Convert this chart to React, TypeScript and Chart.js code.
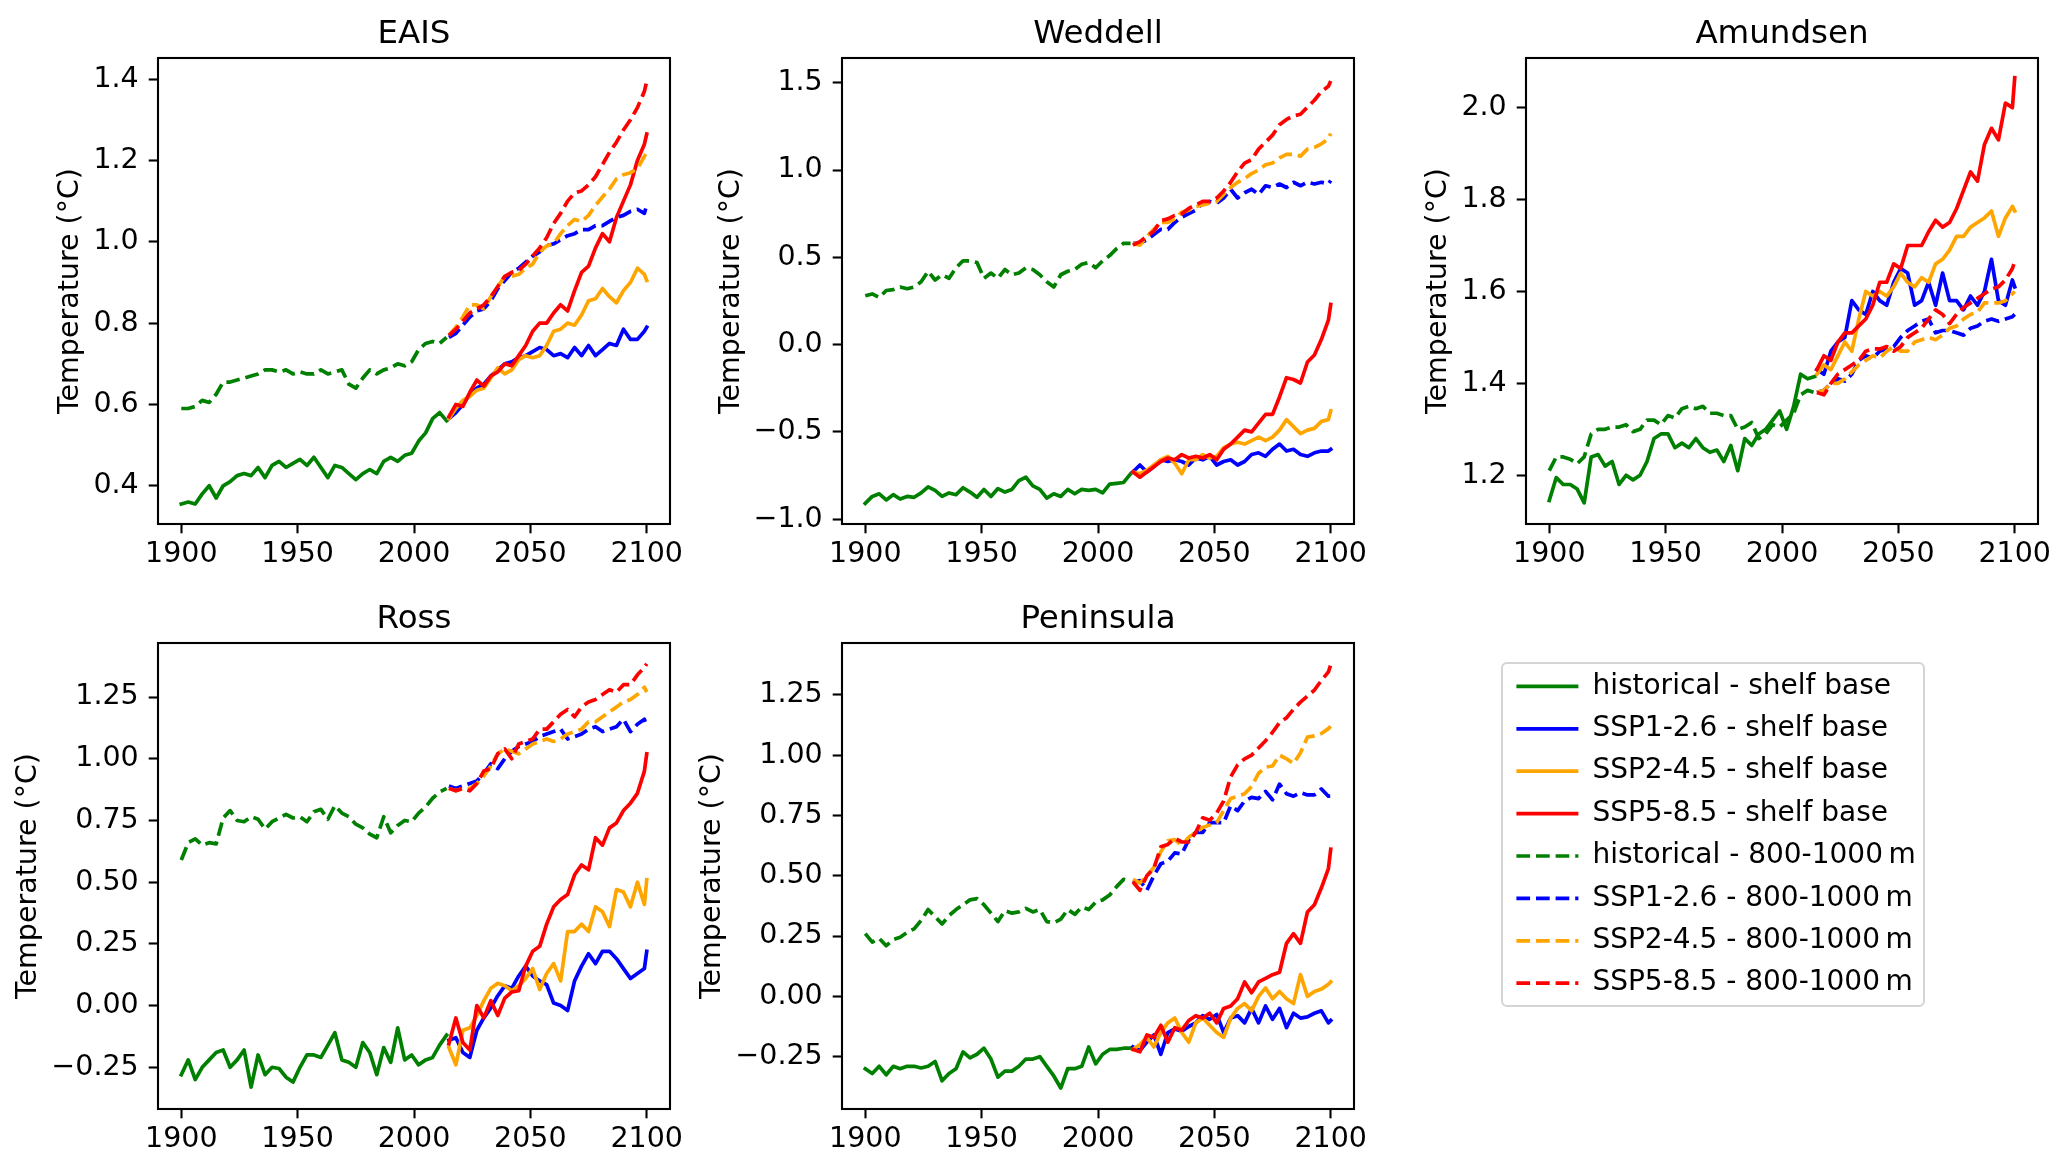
import React, { useEffect, useRef } from 'react';
import { Chart, registerables } from 'chart.js';

Chart.register(...registerables);

// ---------------- data ----------------
const HIST_YEARS = [1900, 1903, 1906, 1909, 1912, 1915, 1918, 1921, 1924, 1927, 1930, 1933, 1936, 1939, 1942, 1945, 1948, 1951, 1954, 1957, 1960, 1963, 1966, 1969, 1972, 1975, 1978, 1981, 1984, 1987, 1990, 1993, 1996, 1999, 2002, 2005, 2008, 2011, 2014];
const SSP_YEARS = [2015, 2018, 2021, 2024, 2027, 2030, 2033, 2036, 2039, 2042, 2045, 2048, 2051, 2054, 2057, 2060, 2063, 2066, 2069, 2072, 2075, 2078, 2081, 2084, 2087, 2090, 2093, 2096, 2099, 2100];
const X_TICKS = [1900, 1950, 2000, 2050, 2100];

const LEGEND_LABELS = [
  'historical - shelf base',
  'SSP1-2.6 - shelf base',
  'SSP2-4.5 - shelf base',
  'SSP5-8.5 - shelf base',
  'historical - 800-1000\u2009m',
  'SSP1-2.6 - 800-1000\u2009m',
  'SSP2-4.5 - 800-1000\u2009m',
  'SSP5-8.5 - 800-1000\u2009m',
];

// EAIS
const EAIS_HIST_SHELF = [0.355, 0.36, 0.355, 0.38, 0.40, 0.37, 0.40, 0.41, 0.425, 0.43, 0.425, 0.445, 0.42, 0.45, 0.46, 0.445, 0.455, 0.465, 0.45, 0.47, 0.445, 0.42, 0.45, 0.445, 0.43, 0.415, 0.43, 0.44, 0.43, 0.46, 0.47, 0.46, 0.475, 0.48, 0.51, 0.53, 0.565, 0.58, 0.56];
const EAIS_HIST_DEEP = [0.59, 0.59, 0.595, 0.61, 0.605, 0.625, 0.655, 0.655, 0.66, 0.665, 0.67, 0.675, 0.685, 0.685, 0.68, 0.685, 0.675, 0.68, 0.675, 0.675, 0.685, 0.675, 0.68, 0.685, 0.65, 0.64, 0.665, 0.685, 0.675, 0.685, 0.69, 0.70, 0.695, 0.705, 0.735, 0.75, 0.755, 0.75, 0.765];
const EAIS_SSP126_SHELF = [0.565, 0.58, 0.60, 0.625, 0.64, 0.65, 0.67, 0.685, 0.70, 0.705, 0.715, 0.72, 0.73, 0.74, 0.735, 0.72, 0.725, 0.715, 0.74, 0.72, 0.745, 0.72, 0.735, 0.75, 0.745, 0.785, 0.76, 0.76, 0.78, 0.79];
const EAIS_SSP245_SHELF = [0.565, 0.59, 0.61, 0.62, 0.635, 0.64, 0.665, 0.69, 0.675, 0.685, 0.71, 0.72, 0.715, 0.72, 0.745, 0.78, 0.785, 0.80, 0.795, 0.82, 0.855, 0.86, 0.885, 0.865, 0.85, 0.88, 0.90, 0.935, 0.92, 0.905];
const EAIS_SSP585_SHELF = [0.57, 0.60, 0.595, 0.63, 0.66, 0.645, 0.67, 0.68, 0.70, 0.695, 0.72, 0.745, 0.78, 0.80, 0.80, 0.825, 0.845, 0.83, 0.88, 0.925, 0.94, 0.985, 1.02, 1.00, 1.06, 1.10, 1.14, 1.20, 1.24, 1.265];
const EAIS_SSP126_DEEP = [0.765, 0.775, 0.795, 0.815, 0.83, 0.835, 0.855, 0.885, 0.905, 0.925, 0.935, 0.95, 0.965, 0.975, 0.99, 0.995, 1.005, 1.015, 1.02, 1.03, 1.03, 1.04, 1.04, 1.05, 1.06, 1.065, 1.075, 1.08, 1.07, 1.09];
const EAIS_SSP245_DEEP = [0.77, 0.79, 0.815, 0.845, 0.845, 0.835, 0.865, 0.89, 0.915, 0.915, 0.92, 0.935, 0.945, 0.975, 0.99, 0.995, 1.02, 1.04, 1.055, 1.05, 1.065, 1.09, 1.11, 1.13, 1.155, 1.165, 1.17, 1.18, 1.21, 1.22];
const EAIS_SSP585_DEEP = [0.77, 0.785, 0.805, 0.825, 0.835, 0.845, 0.865, 0.89, 0.915, 0.925, 0.93, 0.945, 0.965, 0.985, 1.01, 1.045, 1.07, 1.10, 1.12, 1.125, 1.14, 1.16, 1.19, 1.22, 1.245, 1.275, 1.30, 1.33, 1.37, 1.395];

// Weddell
const WEDDELL_HIST_SHELF = [-0.91, -0.87, -0.855, -0.89, -0.86, -0.885, -0.87, -0.875, -0.85, -0.815, -0.835, -0.87, -0.85, -0.86, -0.82, -0.845, -0.875, -0.83, -0.87, -0.825, -0.845, -0.83, -0.78, -0.76, -0.81, -0.83, -0.88, -0.855, -0.87, -0.83, -0.855, -0.83, -0.835, -0.83, -0.85, -0.80, -0.795, -0.79, -0.74];
const WEDDELL_HIST_DEEP = [0.28, 0.29, 0.27, 0.31, 0.315, 0.33, 0.32, 0.33, 0.36, 0.42, 0.37, 0.40, 0.38, 0.44, 0.48, 0.48, 0.47, 0.38, 0.41, 0.38, 0.43, 0.40, 0.41, 0.44, 0.43, 0.40, 0.36, 0.33, 0.40, 0.42, 0.43, 0.46, 0.47, 0.44, 0.48, 0.51, 0.55, 0.58, 0.58];
const WEDDELL_SSP126_SHELF = [-0.73, -0.69, -0.73, -0.70, -0.66, -0.67, -0.66, -0.67, -0.69, -0.65, -0.66, -0.64, -0.69, -0.67, -0.66, -0.69, -0.67, -0.63, -0.62, -0.64, -0.60, -0.57, -0.61, -0.60, -0.63, -0.64, -0.62, -0.61, -0.61, -0.60];
const WEDDELL_SSP245_SHELF = [-0.73, -0.74, -0.72, -0.69, -0.66, -0.64, -0.68, -0.74, -0.66, -0.66, -0.63, -0.65, -0.64, -0.59, -0.57, -0.56, -0.57, -0.55, -0.53, -0.55, -0.53, -0.49, -0.43, -0.47, -0.51, -0.49, -0.48, -0.44, -0.43, -0.38];
const WEDDELL_SSP585_SHELF = [-0.73, -0.76, -0.73, -0.70, -0.67, -0.65, -0.66, -0.63, -0.65, -0.64, -0.65, -0.63, -0.66, -0.60, -0.57, -0.53, -0.49, -0.50, -0.45, -0.40, -0.40, -0.30, -0.19, -0.20, -0.22, -0.10, -0.06, 0.03, 0.14, 0.23];
const WEDDELL_SSP126_DEEP = [0.58, 0.58, 0.60, 0.63, 0.66, 0.66, 0.70, 0.73, 0.75, 0.77, 0.81, 0.82, 0.81, 0.84, 0.89, 0.84, 0.87, 0.89, 0.86, 0.91, 0.90, 0.92, 0.90, 0.93, 0.91, 0.93, 0.92, 0.93, 0.92, 0.94];
const WEDDELL_SSP245_DEEP = [0.58, 0.57, 0.62, 0.66, 0.70, 0.70, 0.72, 0.76, 0.77, 0.79, 0.80, 0.81, 0.82, 0.86, 0.90, 0.93, 0.95, 0.98, 1.00, 1.03, 1.04, 1.07, 1.09, 1.09, 1.08, 1.12, 1.13, 1.15, 1.18, 1.21];
const WEDDELL_SSP585_DEEP = [0.57, 0.59, 0.62, 0.65, 0.71, 0.72, 0.74, 0.75, 0.78, 0.80, 0.82, 0.82, 0.84, 0.88, 0.93, 0.99, 1.04, 1.06, 1.12, 1.16, 1.20, 1.26, 1.29, 1.31, 1.32, 1.36, 1.40, 1.45, 1.48, 1.51];

// Amundsen
const AMUNDSEN_HIST_SHELF = [1.145, 1.195, 1.18, 1.18, 1.17, 1.14, 1.24, 1.245, 1.22, 1.23, 1.18, 1.20, 1.19, 1.20, 1.23, 1.28, 1.29, 1.29, 1.26, 1.27, 1.26, 1.28, 1.26, 1.25, 1.255, 1.23, 1.265, 1.21, 1.28, 1.265, 1.29, 1.30, 1.32, 1.34, 1.30, 1.35, 1.42, 1.41, 1.415];
const AMUNDSEN_HIST_DEEP = [1.21, 1.24, 1.24, 1.235, 1.225, 1.24, 1.29, 1.30, 1.30, 1.305, 1.305, 1.31, 1.295, 1.30, 1.32, 1.32, 1.31, 1.33, 1.325, 1.345, 1.35, 1.345, 1.35, 1.335, 1.335, 1.33, 1.33, 1.30, 1.305, 1.315, 1.28, 1.29, 1.31, 1.305, 1.32, 1.335, 1.375, 1.385, 1.38];
const AMUNDSEN_SSP126_SHELF = [1.43, 1.42, 1.47, 1.49, 1.50, 1.58, 1.56, 1.55, 1.60, 1.58, 1.57, 1.62, 1.65, 1.64, 1.57, 1.58, 1.62, 1.57, 1.64, 1.58, 1.58, 1.56, 1.59, 1.57, 1.60, 1.67, 1.58, 1.57, 1.625, 1.61];
const AMUNDSEN_SSP245_SHELF = [1.42, 1.44, 1.43, 1.46, 1.49, 1.47, 1.54, 1.60, 1.59, 1.60, 1.59, 1.61, 1.64, 1.62, 1.61, 1.63, 1.62, 1.66, 1.67, 1.69, 1.72, 1.72, 1.74, 1.75, 1.76, 1.775, 1.72, 1.76, 1.785, 1.775];
const AMUNDSEN_SSP585_SHELF = [1.43, 1.46, 1.45, 1.49, 1.51, 1.51, 1.525, 1.54, 1.57, 1.62, 1.62, 1.66, 1.65, 1.70, 1.70, 1.70, 1.73, 1.755, 1.74, 1.75, 1.78, 1.82, 1.86, 1.84, 1.92, 1.955, 1.93, 2.01, 2.00, 2.065];
const AMUNDSEN_SSP126_DEEP = [1.38, 1.385, 1.40, 1.41, 1.405, 1.42, 1.45, 1.46, 1.455, 1.47, 1.475, 1.48, 1.50, 1.515, 1.525, 1.535, 1.54, 1.51, 1.515, 1.515, 1.51, 1.505, 1.52, 1.525, 1.535, 1.54, 1.535, 1.54, 1.545, 1.55];
const AMUNDSEN_SSP245_DEEP = [1.38, 1.385, 1.40, 1.40, 1.41, 1.425, 1.44, 1.45, 1.46, 1.455, 1.47, 1.48, 1.47, 1.47, 1.49, 1.495, 1.50, 1.495, 1.505, 1.52, 1.525, 1.54, 1.55, 1.555, 1.575, 1.575, 1.575, 1.58, 1.595, 1.60];
const AMUNDSEN_SSP585_DEEP = [1.38, 1.375, 1.40, 1.42, 1.43, 1.44, 1.45, 1.47, 1.475, 1.475, 1.48, 1.47, 1.48, 1.50, 1.51, 1.52, 1.54, 1.56, 1.55, 1.53, 1.55, 1.565, 1.575, 1.585, 1.595, 1.605, 1.61, 1.625, 1.65, 1.665];

// Ross
const ROSS_HIST_SHELF = [-0.28, -0.22, -0.30, -0.25, -0.22, -0.19, -0.18, -0.25, -0.22, -0.18, -0.33, -0.20, -0.28, -0.25, -0.255, -0.29, -0.31, -0.25, -0.20, -0.20, -0.21, -0.16, -0.11, -0.22, -0.23, -0.25, -0.15, -0.19, -0.28, -0.17, -0.23, -0.09, -0.22, -0.20, -0.24, -0.22, -0.21, -0.16, -0.12];
const ROSS_HIST_DEEP = [0.59, 0.66, 0.675, 0.65, 0.66, 0.655, 0.76, 0.79, 0.75, 0.745, 0.765, 0.755, 0.715, 0.745, 0.76, 0.775, 0.76, 0.765, 0.745, 0.785, 0.795, 0.755, 0.81, 0.78, 0.765, 0.735, 0.72, 0.695, 0.68, 0.765, 0.70, 0.73, 0.75, 0.745, 0.78, 0.805, 0.84, 0.865, 0.88];
const ROSS_SSP126_SHELF = [-0.14, -0.13, -0.19, -0.21, -0.10, -0.05, -0.01, 0.04, 0.08, 0.07, 0.12, 0.16, 0.12, 0.10, 0.085, 0.01, 0.0, -0.02, 0.10, 0.16, 0.21, 0.17, 0.22, 0.22, 0.19, 0.15, 0.11, 0.13, 0.15, 0.22];
const ROSS_SSP245_SHELF = [-0.17, -0.24, -0.10, -0.09, -0.04, 0.02, 0.07, 0.09, 0.08, 0.06, 0.08, 0.11, 0.15, 0.065, 0.13, 0.17, 0.10, 0.30, 0.30, 0.33, 0.30, 0.40, 0.38, 0.32, 0.47, 0.46, 0.40, 0.50, 0.41, 0.51];
const ROSS_SSP585_SHELF = [-0.155, -0.05, -0.15, -0.18, 0.0, -0.05, 0.02, -0.04, 0.03, 0.055, 0.06, 0.16, 0.22, 0.24, 0.33, 0.40, 0.43, 0.45, 0.53, 0.57, 0.55, 0.68, 0.65, 0.72, 0.74, 0.79, 0.82, 0.86, 0.95, 1.02];
const ROSS_SSP126_DEEP = [0.89, 0.88, 0.89, 0.90, 0.91, 0.94, 0.98, 0.96, 1.00, 1.03, 1.05, 1.06, 1.07, 1.09, 1.10, 1.11, 1.12, 1.08, 1.09, 1.10, 1.12, 1.13, 1.11, 1.12, 1.13, 1.16, 1.11, 1.14, 1.16, 1.13];
const ROSS_SSP245_DEEP = [0.88, 0.87, 0.88, 0.88, 0.90, 0.93, 0.97, 1.02, 1.04, 1.03, 1.02, 1.04, 1.06, 1.07, 1.08, 1.07, 1.08, 1.10, 1.11, 1.12, 1.15, 1.15, 1.17, 1.19, 1.21, 1.23, 1.24, 1.26, 1.29, 1.27];
const ROSS_SSP585_DEEP = [0.88, 0.87, 0.88, 0.87, 0.90, 0.95, 0.96, 1.02, 1.04, 1.00, 1.06, 1.07, 1.08, 1.12, 1.12, 1.15, 1.18, 1.20, 1.17, 1.21, 1.23, 1.24, 1.26, 1.28, 1.27, 1.30, 1.30, 1.34, 1.37, 1.385];

// Peninsula
const PENINSULA_HIST_SHELF = [-0.30, -0.32, -0.29, -0.325, -0.29, -0.30, -0.29, -0.29, -0.297, -0.29, -0.27, -0.35, -0.32, -0.30, -0.23, -0.255, -0.24, -0.215, -0.26, -0.335, -0.31, -0.31, -0.29, -0.26, -0.26, -0.25, -0.29, -0.33, -0.38, -0.30, -0.30, -0.29, -0.21, -0.28, -0.24, -0.22, -0.22, -0.215, -0.215];
const PENINSULA_HIST_DEEP = [0.26, 0.225, 0.24, 0.21, 0.235, 0.245, 0.265, 0.28, 0.315, 0.36, 0.33, 0.30, 0.335, 0.36, 0.38, 0.40, 0.405, 0.38, 0.345, 0.31, 0.355, 0.345, 0.35, 0.365, 0.35, 0.36, 0.31, 0.305, 0.32, 0.36, 0.34, 0.37, 0.36, 0.39, 0.40, 0.42, 0.455, 0.485, 0.478];
const PENINSULA_SSP126_SHELF = [-0.21, -0.225, -0.19, -0.16, -0.24, -0.15, -0.135, -0.145, -0.125, -0.11, -0.08, -0.095, -0.075, -0.15, -0.09, -0.08, -0.11, -0.05, -0.11, -0.04, -0.095, -0.05, -0.13, -0.07, -0.09, -0.085, -0.07, -0.06, -0.11, -0.10];
const PENINSULA_SSP245_SHELF = [-0.22, -0.20, -0.17, -0.21, -0.15, -0.11, -0.09, -0.15, -0.19, -0.11, -0.09, -0.12, -0.15, -0.17, -0.09, -0.05, -0.03, -0.06, 0.0, 0.035, -0.01, 0.02, -0.01, -0.03, 0.09, 0.0, 0.02, 0.03, 0.05, 0.06];
const PENINSULA_SSP585_SHELF = [-0.22, -0.23, -0.16, -0.17, -0.12, -0.19, -0.13, -0.14, -0.10, -0.08, -0.09, -0.07, -0.11, -0.05, -0.04, -0.01, 0.06, 0.015, 0.06, 0.075, 0.09, 0.10, 0.22, 0.26, 0.22, 0.35, 0.38, 0.45, 0.53, 0.61];
const PENINSULA_SSP126_DEEP = [0.47, 0.48, 0.44, 0.50, 0.55, 0.56, 0.595, 0.59, 0.65, 0.68, 0.68, 0.72, 0.72, 0.72, 0.79, 0.77, 0.81, 0.825, 0.82, 0.85, 0.815, 0.88, 0.84, 0.83, 0.845, 0.835, 0.835, 0.86, 0.83, 0.83];
const PENINSULA_SSP245_DEEP = [0.485, 0.47, 0.50, 0.535, 0.60, 0.645, 0.65, 0.625, 0.66, 0.68, 0.70, 0.71, 0.72, 0.77, 0.82, 0.83, 0.84, 0.87, 0.925, 0.95, 0.955, 1.00, 0.985, 0.965, 1.01, 1.075, 1.08, 1.09, 1.11, 1.12];
const PENINSULA_SSP585_DEEP = [0.475, 0.44, 0.50, 0.53, 0.62, 0.63, 0.655, 0.64, 0.64, 0.68, 0.74, 0.73, 0.76, 0.81, 0.91, 0.96, 0.985, 1.00, 1.03, 1.06, 1.095, 1.135, 1.155, 1.19, 1.22, 1.245, 1.27, 1.31, 1.345, 1.375];

// tick values
const EAIS_TICKS = [0.4, 0.6, 0.8, 1.0, 1.2, 1.4];
const WEDDELL_TICKS = [-1.0, -0.5, 0.0, 0.5, 1.0, 1.5];
const AMUNDSEN_TICKS = [1.2, 1.4, 1.6, 1.8, 2.0];
const ROSS_TICKS = [-0.25, 0.0, 0.25, 0.5, 0.75, 1.0, 1.25];
const PENINSULA_TICKS = [-0.25, 0.0, 0.25, 0.5, 0.75, 1.0, 1.25];

// ---------------- style / layout ----------------
const FONT = "'DejaVu Sans', 'Liberation Sans', sans-serif";
const COLORS = ['green', 'blue', 'orange', 'red', 'green', 'blue', 'orange', 'red'];
const DASHED = [false, false, false, false, true, true, true, true];
const LW = 3.7;
const DASH = [13.7, 5.9];
const TICK_SIZE = 28.5;
const TITLE_SIZE = 32.5;
const AXW = 158; // y-axis area width
const XH = 55; // x-axis area height
const TOPH = 58; // title area height
const PAD_R = 30;
const BOX_W = 512;
const BOX_H = 466;
const TICK_LEN = 9.3;
const SPINE = 2.1;

type PanelDef = {
  title: string;
  boxLeft: number;
  boxTop: number;
  yMin: number;
  yMax: number;
  ticks: number[];
  decimals: number;
  ylabelOffset: number;
  series: number[][];
};

const PANELS: PanelDef[] = [
  { title: 'EAIS', boxLeft: 158, boxTop: 58, yMin: 0.306, yMax: 1.452, ticks: EAIS_TICKS, decimals: 1, ylabelOffset: 87,
    series: [EAIS_HIST_SHELF, EAIS_SSP126_SHELF, EAIS_SSP245_SHELF, EAIS_SSP585_SHELF, EAIS_HIST_DEEP, EAIS_SSP126_DEEP, EAIS_SSP245_DEEP, EAIS_SSP585_DEEP] },
  { title: 'Weddell', boxLeft: 842, boxTop: 58, yMin: -1.028, yMax: 1.642, ticks: WEDDELL_TICKS, decimals: 1, ylabelOffset: 110,
    series: [WEDDELL_HIST_SHELF, WEDDELL_SSP126_SHELF, WEDDELL_SSP245_SHELF, WEDDELL_SSP585_SHELF, WEDDELL_HIST_DEEP, WEDDELL_SSP126_DEEP, WEDDELL_SSP245_DEEP, WEDDELL_SSP585_DEEP] },
  { title: 'Amundsen', boxLeft: 1526, boxTop: 58, yMin: 1.094, yMax: 2.108, ticks: AMUNDSEN_TICKS, decimals: 1, ylabelOffset: 87,
    series: [AMUNDSEN_HIST_SHELF, AMUNDSEN_SSP126_SHELF, AMUNDSEN_SSP245_SHELF, AMUNDSEN_SSP585_SHELF, AMUNDSEN_HIST_DEEP, AMUNDSEN_SSP126_DEEP, AMUNDSEN_SSP245_DEEP, AMUNDSEN_SSP585_DEEP] },
  { title: 'Ross', boxLeft: 158, boxTop: 643, yMin: -0.419, yMax: 1.469, ticks: ROSS_TICKS, decimals: 2, ylabelOffset: 129,
    series: [ROSS_HIST_SHELF, ROSS_SSP126_SHELF, ROSS_SSP245_SHELF, ROSS_SSP585_SHELF, ROSS_HIST_DEEP, ROSS_SSP126_DEEP, ROSS_SSP245_DEEP, ROSS_SSP585_DEEP] },
  { title: 'Peninsula', boxLeft: 842, boxTop: 643, yMin: -0.467, yMax: 1.465, ticks: PENINSULA_TICKS, decimals: 2, ylabelOffset: 129,
    series: [PENINSULA_HIST_SHELF, PENINSULA_SSP126_SHELF, PENINSULA_SSP245_SHELF, PENINSULA_SSP585_SHELF, PENINSULA_HIST_DEEP, PENINSULA_SSP126_DEEP, PENINSULA_SSP245_DEEP, PENINSULA_SSP585_DEEP] },
];

const fmt = (v: number, d: number) => {
  const s = Math.abs(v) < 1e-9 ? (0).toFixed(d) : v.toFixed(d);
  return s.replace('-', '\u2212');
};

const framePlugin = {
  id: 'axesFrame',
  afterDatasetsDraw(chart: any) {
    const { ctx, chartArea: a } = chart;
    ctx.save();
    ctx.strokeStyle = '#000';
    ctx.lineWidth = SPINE;
    ctx.strokeRect(a.left, a.top, a.right - a.left, a.bottom - a.top);
    ctx.restore();
  },
};

function PanelChart({ p }: { p: PanelDef }) {
  const ref = useRef<HTMLCanvasElement | null>(null);
  const W = AXW + BOX_W + PAD_R;
  const H = TOPH + BOX_H + XH;
  useEffect(() => {
    if (!ref.current) return;
    const datasets = p.series.map((vals, i) => {
      const years = i % 4 === 0 ? HIST_YEARS : SSP_YEARS;
      return {
        label: LEGEND_LABELS[i],
        data: vals.map((v, k) => ({ x: years[k], y: v })),
        borderColor: COLORS[i],
        backgroundColor: COLORS[i],
        borderWidth: LW,
        borderDash: DASHED[i] ? DASH : [],
        borderJoinStyle: 'round' as const,
        borderCapStyle: DASHED[i] ? ('butt' as const) : ('square' as const),
        pointRadius: 0,
        pointHoverRadius: 0,
        tension: 0,
        fill: false,
        order: 7 - i,
      };
    });
    const tickFont = { family: FONT, size: TICK_SIZE };
    const titleLH = TITLE_SIZE * 1.2;
    const titleTop = TOPH - 23.8 - titleLH / 2;
    const chart = new Chart(ref.current, {
      type: 'line',
      data: { datasets },
      options: {
        animation: false,
        responsive: false,
        events: [],
        layout: { padding: { left: 0, right: PAD_R, top: 0, bottom: 0 } },
        plugins: {
          legend: { display: false },
          tooltip: { enabled: false },
          title: {
            display: true,
            text: p.title,
            fullSize: false,
            color: '#000',
            font: { family: FONT, size: TITLE_SIZE, weight: 'normal', lineHeight: 1.2 },
            padding: { top: titleTop, bottom: TOPH - titleTop - titleLH },
          },
        },
        scales: {
          x: {
            type: 'linear',
            min: 1890,
            max: 2110,
            afterBuildTicks: (s: any) => { s.ticks = X_TICKS.map((v) => ({ value: v })); },
            afterFit: (s: any) => { s.height = XH; },
            border: { display: false },
            grid: { drawOnChartArea: false, drawTicks: true, tickLength: TICK_LEN, tickWidth: SPINE, tickColor: '#000' },
            ticks: { color: '#000', font: tickFont, padding: 4.3, maxRotation: 0, autoSkip: false, callback: (v: any) => String(v) },
          },
          y: {
            type: 'linear',
            min: p.yMin,
            max: p.yMax,
            afterBuildTicks: (s: any) => { s.ticks = p.ticks.map((v) => ({ value: v })); },
            afterFit: (s: any) => { s.width = AXW; },
            border: { display: false },
            grid: { drawOnChartArea: false, drawTicks: true, tickLength: TICK_LEN, tickWidth: SPINE, tickColor: '#000' },
            ticks: { color: '#000', font: tickFont, padding: 10, autoSkip: false, callback: (v: any) => fmt(Number(v), p.decimals) },
            title: {
              display: true,
              text: 'Temperature (\u00B0C)',
              color: '#000',
              font: { family: FONT, size: TICK_SIZE, lineHeight: 1.2 },
              padding: { top: AXW - p.ylabelOffset - (TICK_SIZE * 1.2) / 2, bottom: 0 },
            },
          },
        },
      } as any,
      plugins: [framePlugin],
    });
    return () => chart.destroy();
  }, []);
  return (
    <canvas
      ref={ref}
      width={W}
      height={H}
      style={{ position: 'absolute', left: p.boxLeft - AXW, top: p.boxTop - TOPH, width: W, height: H }}
    />
  );
}

function LegendChart() {
  const ref = useRef<HTMLCanvasElement | null>(null);
  const W = 560;
  const H = 362;
  useEffect(() => {
    if (!ref.current) return;
    const datasets = LEGEND_LABELS.map((label, i) => ({
      label,
      data: [],
      borderColor: COLORS[i],
      backgroundColor: COLORS[i],
      borderWidth: LW,
      borderDash: DASHED[i] ? DASH : [],
      pointStyle: 'line',
    }));
    const chart = new Chart(ref.current, {
      type: 'line',
      data: { datasets },
      options: {
        animation: false,
        responsive: false,
        events: [],
        scales: { x: { display: false }, y: { display: false } },
        plugins: {
          tooltip: { enabled: false },
          legend: {
            display: true,
            position: 'left',
            align: 'start',
            maxWidth: 600,
            labels: {
              usePointStyle: true,
              pointStyle: 'line',
              pointStyleWidth: 62,
              color: '#000',
              font: { family: FONT, size: 28 },
              padding: 14.4,
              generateLabels: (chart: any) => {
                const items = Chart.defaults.plugins.legend.labels.generateLabels(chart);
                items.forEach((it: any, i: number) => {
                  it.lineDash = DASHED[i] ? DASH : [];
                  it.lineWidth = LW;
                  it.strokeStyle = COLORS[i];
                  it.fillStyle = COLORS[i];
                  it.lineCap = 'butt';
                  it.pointStyle = 'line';
                });
                return items;
              },
            },
          },
        },
      } as any,
    });
    return () => chart.destroy();
  }, []);
  return (
    <canvas
      ref={ref}
      width={W}
      height={H}
      style={{ position: 'absolute', left: 1502, top: 658, width: W, height: H }}
    />
  );
}

export default function App() {
  return (
    <div style={{ position: 'fixed', left: 0, top: 0, width: 2067, height: 1166, overflow: 'hidden', background: '#fff' }}>
      {PANELS.map((p) => (
        <PanelChart key={p.title} p={p} />
      ))}
      <div
        style={{
          position: 'absolute',
          left: 1501,
          top: 662,
          width: 424,
          height: 345,
          boxSizing: 'border-box',
          border: '2px solid #d4d4d4',
          borderRadius: 6,
          background: '#fff',
        }}
      />
      <LegendChart />
    </div>
  );
}
